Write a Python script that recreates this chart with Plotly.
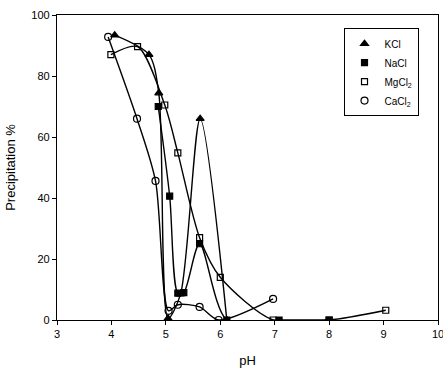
import plotly.graph_objects as go

# data
kcl_x = [4.06, 4.69, 4.87, 5.04, 5.27, 5.63, 6.12]
kcl_y = [93.4, 87.0, 74.4, 0.5, 8.5, 66.0, 0.0]

nacl_x = [4.86, 5.07, 5.22, 5.33, 5.62, 6.12, 7.08, 8.0]
nacl_y = [70.0, 40.6, 8.8, 9.0, 25.0, 0.0, 0.0, 0.0]

mgcl_x = [3.99, 4.48, 4.98, 5.22, 5.62, 6.0, 6.97, 8.0, 9.04]
mgcl_y = [87.0, 89.6, 70.5, 54.8, 27.0, 14.0, 0.0, 0.0, 3.2]

cacl_x = [3.94, 4.47, 4.81, 5.05, 5.22, 5.62, 5.97, 6.97]
cacl_y = [92.8, 66.0, 45.6, 3.0, 5.0, 4.3, 0.0, 6.9]

x_ticks = [3, 4, 5, 6, 7, 8, 9, 10]
y_ticks = [0, 20, 40, 60, 80, 100]

series = [
    ("KCl", kcl_x, kcl_y, "triangle-up", 7),
    ("NaCl", nacl_x, nacl_y, "square", 6),
    ("MgCl<sub>2</sub>", mgcl_x, mgcl_y, "square-open", 6),
    ("CaCl<sub>2</sub>", cacl_x, cacl_y, "circle-open", 7),
]

fig = go.Figure()
for name, xs, ys, sym, sz in series:
    fig.add_trace(go.Scatter(
        x=xs, y=ys, mode="lines", showlegend=False, hoverinfo="skip",
        line=dict(color="black", width=1.4, shape="spline", smoothing=0.8),
    ))
for name, xs, ys, sym, sz in series:
    fig.add_trace(go.Scatter(
        x=xs, y=ys, mode="markers", name=name,
        marker=dict(symbol=sym, size=sz, color="black",
                    line=dict(color="black", width=1.2)),
    ))

font = dict(family="Liberation Sans, Arial, sans-serif", size=11, color="black")
fig.update_layout(
    width=443, height=368,
    margin=dict(l=57, r=5, t=15, b=48),
    paper_bgcolor="white", plot_bgcolor="white",
    font=font,
    legend=dict(
        x=0.752, y=0.957, xanchor="left", yanchor="top",
        bordercolor="black", borderwidth=1, bgcolor="white",
        font=dict(family="Liberation Sans, Arial, sans-serif", size=10),
        itemwidth=30, tracegroupgap=0,
    ),
    xaxis=dict(
        range=[3, 10], tickvals=x_ticks, ticks="outside", ticklen=4,
        tickcolor="black", showline=True, linecolor="black", linewidth=1.3,
        mirror=True, showgrid=False, zeroline=False,
        ticklabeloverflow="allow", automargin=False,
        title=dict(text="pH", standoff=20),
    ),
    yaxis=dict(
        range=[0, 100], tickvals=y_ticks, ticks="outside", ticklen=4,
        tickcolor="black", showline=True, linecolor="black", linewidth=1.3,
        mirror=True, showgrid=False, zeroline=False, automargin=False,
        title=dict(text="Precipitation %", standoff=12),
    ),
)
fig.write_html("out.html")
